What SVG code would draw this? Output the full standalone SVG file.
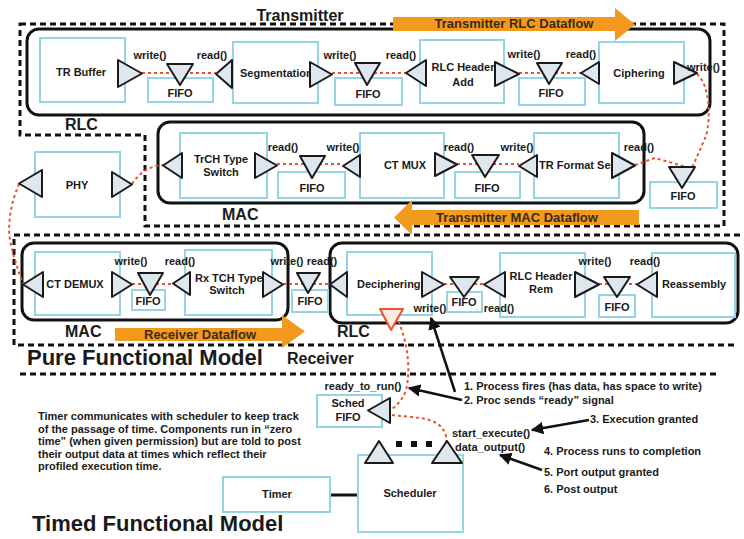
<svg xmlns="http://www.w3.org/2000/svg" width="744" height="539" viewBox="0 0 744 539">
<style>
.b{fill:#fff;stroke:#96d3e3;stroke-width:2}
.t{fill:#dfe7ee;stroke:#1a1a1a;stroke-width:2;stroke-linejoin:round}
.rt{fill:#fbe9e4;stroke:#e8542f;stroke-width:2;stroke-linejoin:round}
text{font-family:"Liberation Sans",Arial,sans-serif;font-weight:bold;font-size:11px;fill:#1a1a1a}
.c{text-anchor:middle}
.h{font-size:16px}
.big{font-size:22px}
.df{font-size:13px;fill:#3b2b12}
.grp{fill:none;stroke:#111;stroke-width:3}
.dash{fill:none;stroke:#111;stroke-width:3;stroke-dasharray:6 4}
.red{fill:none;stroke:#e8542f;stroke-width:2;stroke-dasharray:3 3}
.or{fill:#f39a1e}
.blk{fill:none;stroke:#111;stroke-width:2.5;marker-end:url(#ah)}
</style>
<defs>
<marker id="ah" viewBox="0 0 10 10" refX="9" refY="5" markerWidth="5" markerHeight="5" orient="auto" markerUnits="strokeWidth"><path d="M0,0 L10,5 L0,10 Z" fill="#111"/></marker>
</defs>
<rect width="744" height="539" fill="#fff"/>

<!-- region boundaries -->
<g id="regions">
<path class="dash" d="M20,24 H724 V226 H145 V135 H20 Z"/>
<path class="dash" d="M740,235 H14 V345 H735"/>
<path class="dash" d="M20,374 H720"/>
<rect class="grp" x="27" y="29" width="683" height="86" rx="12"/>
<rect class="grp" x="158" y="122" width="486" height="81" rx="12"/>
<rect class="grp" x="22" y="243" width="266" height="77" rx="12"/>
<rect class="grp" x="330" y="243" width="408" height="80" rx="12"/>
<text class="h c" x="300" y="21">Transmitter</text>
<text class="h" x="65" y="130">RLC</text>
<text class="h" x="222" y="220">MAC</text>
<text class="h" x="65" y="337">MAC</text>
<text class="h" x="337" y="337">RLC</text>
<text class="big" x="27" y="365">Pure Functional Model</text>
<text class="h" x="287" y="364">Receiver</text>
<text class="big" x="32" y="531">Timed Functional Model</text>
</g>

<!-- dataflow arrows -->
<g id="dataflow">
<polygon class="or" points="393,17 615,17 615,8 635,24.5 615,41 615,31 393,31"/>
<text class="df" x="514" y="28" text-anchor="middle">Transmitter RLC Dataflow</text>
<polygon class="or" points="639,210 412,210 412,200 394,217.5 412,235 412,225 639,225"/>
<text class="df" x="517" y="222" text-anchor="middle">Transmitter MAC Dataflow</text>
<polygon class="or" points="115,328 282,328 282,315 305,331.5 282,348 282,341 115,341"/>
<text class="df" x="200" y="339" text-anchor="middle">Receiver Dataflow</text>
</g>

<!-- connectors -->
<g id="connectors">
<path class="red" d="M142,73 H216"/>
<path class="red" d="M332,73 H406"/>
<path class="red" d="M519,73 H581"/>
<path class="red" d="M697,74 C710,85 711,118 706,136 L692,168"/>
<path class="red" d="M635,165 L655,158 L690,168"/>
<path class="red" d="M277,164 H343"/>
<path class="red" d="M457,164 H519"/>
<path class="red" d="M132,184 C140,172 150,166 163,165"/>
<path class="red" d="M19,184 C12,200 6,225 11,245 C15,262 20,275 23,285"/>
<path class="red" d="M132,284 H173"/>
<path class="red" d="M283,284 H330"/>
<path class="red" d="M444,284 H484"/>
<path class="red" d="M599,284 H637"/>
<path class="red" d="M396,316 C408,340 411,370 406,390 C402,402 394,408 386,413"/>
<path class="red" d="M386,414 C412,419 440,414 446,436 L447,458"/>
<path d="M330,495 H358" stroke="#111" stroke-width="3"/>
<path class="blk" d="M455,392 L431,318"/>
<path class="blk" d="M462,400 L409,388"/>
<path class="blk" d="M589,420 L532,430"/>
<path class="blk" d="M542,470 L500,455"/>
</g>

<!-- Transmitter RLC -->
<g id="tr-buffer">
<rect class="b" x="40" y="38" width="85" height="64"/>
<text class="c" x="81" y="76">TR Buffer</text>
<polygon class="t" points="118,60 118,87 142,73.5"/>
<text class="c" x="150" y="59">write()</text>
</g>
<g id="fifo-t1">
<rect class="b" x="148" y="78" width="65" height="24"/>
<text class="c" x="180" y="97">FIFO</text>
<polygon class="t" points="167,64 193,64 180,85"/>
</g>
<g id="segmentation">
<rect class="b" x="233" y="42" width="85" height="61"/>
<text x="240" y="77">Segmentation</text>
<text class="c" x="212" y="59">read()</text>
<polygon class="t" points="232,60 232,88 216,74"/>
<polygon class="t" points="310,62 310,87 332,74.5"/>
<text class="c" x="340" y="59">write()</text>
</g>
<g id="fifo-t2">
<rect class="b" x="335" y="78" width="67" height="27"/>
<text class="c" x="368" y="98">FIFO</text>
<polygon class="t" points="355,63 380,63 367,85"/>
</g>
<g id="rlc-header-add">
<rect class="b" x="420" y="40" width="84" height="63"/>
<text class="c" x="463" y="71">RLC Header</text>
<text class="c" x="463" y="86">Add</text>
<text class="c" x="401" y="59">read()</text>
<polygon class="t" points="426,60 426,86 406,73"/>
<polygon class="t" points="495,62 495,86 519,74"/>
<text class="c" x="524" y="58">write()</text>
</g>
<g id="fifo-t3">
<rect class="b" x="519" y="78" width="66" height="27"/>
<text class="c" x="551" y="97">FIFO</text>
<polygon class="t" points="537,63 562,63 549,84"/>
</g>
<g id="ciphering">
<rect class="b" x="599" y="42" width="85" height="61"/>
<text class="c" x="639" y="77">Ciphering</text>
<text class="c" x="581" y="58">read()</text>
<polygon class="t" points="599,62 599,84 581,73"/>
<polygon class="t" points="674,62 674,84 697,73"/>
<text x="687" y="71">write()</text>
</g>
<g id="fifo-t4">
<rect class="b" x="650" y="182" width="67" height="26"/>
<text class="c" x="683" y="200">FIFO</text>
<polygon class="t" points="669,167 695,167 682,188"/>
</g>

<!-- Transmitter MAC -->
<g id="trch-type-switch">
<rect class="b" x="180" y="133" width="87" height="65"/>
<text class="c" x="221" y="163">TrCH Type</text>
<text class="c" x="221" y="176">Switch</text>
<polygon class="t" points="182,153 182,178 163,165.5"/>
<polygon class="t" points="255,153 255,178 277,165.5"/>
<text class="c" x="283" y="151">read()</text>
</g>
<g id="fifo-m1">
<rect class="b" x="278" y="172" width="67" height="26"/>
<text class="c" x="312" y="192">FIFO</text>
<polygon class="t" points="300,156 325,156 312,178"/>
</g>
<g id="ct-mux">
<rect class="b" x="360" y="133" width="84" height="65"/>
<text class="c" x="405" y="169">CT MUX</text>
<text class="c" x="343" y="151">write()</text>
<polygon class="t" points="360,155 360,177 343,166"/>
<polygon class="t" points="435,153 435,176 457,164.5"/>
<text class="c" x="459" y="151">read()</text>
</g>
<g id="fifo-m2">
<rect class="b" x="455" y="172" width="65" height="26"/>
<text class="c" x="487" y="192">FIFO</text>
<polygon class="t" points="472,155 499,155 485,177"/>
</g>
<g id="tr-format-sel">
<rect class="b" x="534" y="133" width="85" height="65"/>
<text x="539" y="169">TR Format Sel</text>
<text class="c" x="517" y="151">write()</text>
<polygon class="t" points="537,155 537,177 519,166"/>
<polygon class="t" points="612,153 612,178 635,165.5"/>
<text class="c" x="639" y="151">read()</text>
</g>

<!-- PHY -->
<g id="phy">
<rect class="b" x="35" y="152" width="85" height="65"/>
<text class="c" x="77" y="189">PHY</text>
<polygon class="t" points="42,170 42,197 19,183.5"/>
<polygon class="t" points="112,172 112,197 132,184.5"/>
</g>

<!-- Receiver MAC -->
<g id="ct-demux">
<rect class="b" x="35" y="252" width="85" height="63"/>
<text class="c" x="75" y="288">CT DEMUX</text>
<polygon class="t" points="43,272 43,297 23,284.5"/>
<polygon class="t" points="112,272 112,297 132,284.5"/>
<text class="c" x="131" y="265">write()</text>
</g>
<g id="fifo-r1">
<rect class="b" x="132" y="290" width="33" height="20"/>
<text class="c" x="148" y="305">FIFO</text>
<polygon class="t" points="138,273 163,273 150,295"/>
</g>
<g id="rx-tch-type-switch">
<rect class="b" x="185" y="250" width="87" height="65"/>
<text x="195" y="282">Rx TCH Type</text>
<text class="c" x="227" y="294">Switch</text>
<text class="c" x="180" y="265">read()</text>
<polygon class="t" points="190,272 190,295 173,283.5"/>
<polygon class="t" points="263,272 263,297 283,284.5"/>
<text class="c" x="287" y="265">write()</text>
</g>
<g id="fifo-r2">
<rect class="b" x="292" y="290" width="36" height="22"/>
<text class="c" x="310" y="305">FIFO</text>
<polygon class="t" points="297,273 320,273 308,293"/>
</g>

<!-- Receiver RLC -->
<g id="deciphering">
<rect class="b" x="347" y="252" width="85" height="63"/>
<text x="357" y="288">Deciphering</text>
<text class="c" x="322" y="265">read()</text>
<polygon class="t" points="347,272 347,297 330,284.5"/>
<polygon class="t" points="422,272 422,297 444,284.5"/>
<text class="c" x="430" y="312">write()</text>
<polygon class="rt" points="380,309 403,309 391,330"/>
</g>
<g id="fifo-r3">
<rect class="b" x="447" y="292" width="35" height="20"/>
<text class="c" x="464" y="306">FIFO</text>
<polygon class="t" points="450,277 479,277 464,297"/>
</g>
<g id="rlc-header-rem">
<rect class="b" x="500" y="253" width="85" height="64"/>
<text class="c" x="541" y="280">RLC Header</text>
<text class="c" x="541" y="293">Rem</text>
<text class="c" x="499" y="312">read()</text>
<polygon class="t" points="505,272 505,297 484,284.5"/>
<polygon class="t" points="575,272 575,297 599,284.5"/>
<text class="c" x="595" y="265">write()</text>
</g>
<g id="fifo-r4">
<rect class="b" x="599" y="295" width="36" height="22"/>
<text class="c" x="617" y="311">FIFO</text>
<polygon class="t" points="604,277 630,277 617,297"/>
</g>
<g id="reassembly">
<rect class="b" x="652" y="253" width="83" height="64"/>
<text class="c" x="694" y="288">Reassembly</text>
<text class="c" x="645" y="265">read()</text>
<polygon class="t" points="657,272 657,297 637,284.5"/>
</g>

<!-- Timed model -->
<g id="sched-fifo">
<rect class="b" x="317" y="395" width="65" height="32"/>
<text class="c" x="348" y="407">Sched</text>
<text class="c" x="348" y="421">FIFO</text>
<polygon class="t" points="390,398 390,423 368,410.5"/>
<text class="c" x="363" y="390">ready_to_run()</text>
</g>
<g id="scheduler">
<rect class="b" x="358" y="455" width="105" height="77"/>
<text class="c" x="410" y="497">Scheduler</text>
<polygon class="t" points="365,463 393,463 379,441"/>
<polygon class="t" points="432,463 462,463 447,441"/>
<rect x="396" y="441" width="6" height="6" fill="#111"/>
<rect x="411" y="441" width="6" height="6" fill="#111"/>
<rect x="426" y="441" width="6" height="6" fill="#111"/>
<text x="452" y="437">start_execute()</text>
<text x="455" y="451">data_output()</text>
</g>
<g id="timer">
<rect class="b" x="223" y="477" width="107" height="35"/>
<text class="c" x="277" y="498">Timer</text>
</g>
<g id="notes">
<text x="38" y="420">Timer communicates with scheduler to keep track</text>
<text x="38" y="432.5">of the passage of time. Components run in “zero</text>
<text x="38" y="445">time” (when given permission) but are told to post</text>
<text x="38" y="457.5">their output data at times which reflect their</text>
<text x="38" y="470">profiled execution time.</text>
<text x="464" y="390">1. Process fires (has data, has space to write)</text>
<text x="464" y="404">2. Proc sends “ready” signal</text>
<text x="590" y="423">3. Execution granted</text>
<text x="544" y="455">4. Process runs to completion</text>
<text x="544" y="476">5. Port output granted</text>
<text x="544" y="493">6. Post output</text>
</g>
</svg>
